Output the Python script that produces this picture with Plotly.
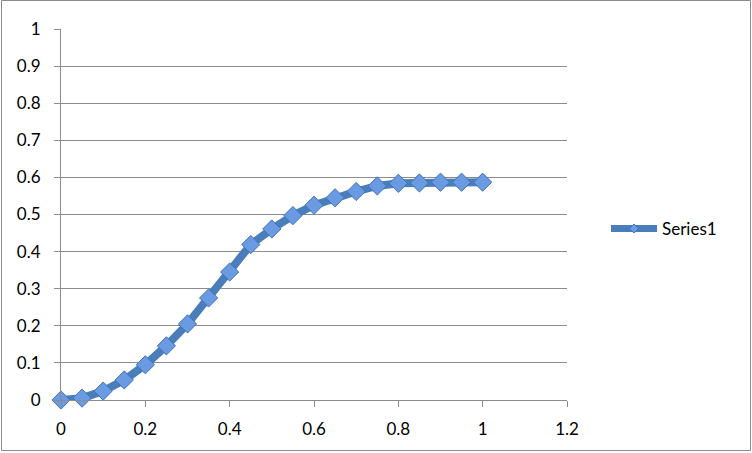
import plotly.graph_objects as go

x_vals = [0, 0.05, 0.1, 0.15, 0.2, 0.25, 0.3, 0.35, 0.4, 0.45, 0.5,
          0.55, 0.6, 0.65, 0.7, 0.75, 0.8, 0.85, 0.9, 0.95, 1.0]
series1 = [0.0, 0.005, 0.024, 0.054, 0.095, 0.146, 0.205, 0.275, 0.345, 0.419, 0.461,
           0.497, 0.525, 0.545, 0.562, 0.577, 0.584, 0.585, 0.587, 0.587, 0.587]
x_ticks = [0, 0.2, 0.4, 0.6, 0.8, 1, 1.2]
x_tick_labels = ["0", "0.2", "0.4", "0.6", "0.8", "1", "1.2"]
y_ticks = [0, 0.1, 0.2, 0.3, 0.4, 0.5, 0.6, 0.7, 0.8, 0.9, 1]
y_tick_labels = ["0", "0.1", "0.2", "0.3", "0.4", "0.5", "0.6", "0.7", "0.8", "0.9", "1"]

W, H = 752, 453
L, R, T, B = 61, 185, 29, 53
pw, ph = W - L - R, H - T - B

LINE_C = "#4a7ebb"
MARK_C = "#6a9be2"
MARK_EDGE = "#4072b8"

fig = go.Figure()
fig.add_trace(go.Scatter(
    x=x_vals, y=series1, mode="lines+markers", name="Series1", showlegend=False,
    cliponaxis=False,
    line=dict(color=LINE_C, width=8),
    marker=dict(symbol="diamond", size=14, color=MARK_C,
                line=dict(color=MARK_EDGE, width=1)),
))
# legend entry (smaller marker, as in the reference legend)
fig.add_trace(go.Scatter(
    x=[None], y=[None], mode="lines+markers", name="Series1", showlegend=True,
    line=dict(color=LINE_C, width=7),
    marker=dict(symbol="diamond", size=7, color=MARK_C,
                line=dict(color=MARK_EDGE, width=1)),
))

fig.update_layout(
    width=W, height=H,
    margin=dict(l=L, r=R, t=T, b=B),
    paper_bgcolor="white", plot_bgcolor="white",
    font=dict(family="Lato, Open Sans, sans-serif", size=17, color="#000000"),
    showlegend=True,
    legend=dict(x=(606 - L) / pw, y=(400 - 229) / ph, xanchor="left", yanchor="middle",
                bgcolor="rgba(0,0,0,0)", font=dict(size=17), itemwidth=46),
    xaxis=dict(range=[0, 1.2], tickvals=x_ticks, ticktext=x_tick_labels,
               showgrid=False, zeroline=False, showline=True, linecolor="#8c8c8c",
               linewidth=1, ticks="outside", ticklen=6, tickcolor="#8c8c8c",
               ticklabelstandoff=8),
    yaxis=dict(range=[0, 1], tickvals=y_ticks, ticktext=y_tick_labels,
               showgrid=True, gridcolor="#8c8c8c", gridwidth=1, zeroline=False,
               showline=True, linecolor="#8c8c8c", linewidth=1,
               ticks="outside", ticklen=6, tickcolor="#8c8c8c",
               ticklabelstandoff=10),
    shapes=[dict(type="rect", xref="paper", yref="paper",
                 x0=(1.5 - L) / pw, x1=(W - 1.5 - L) / pw,
                 y0=(H - B - (H - 2.5)) / ph, y1=(H - B - 0.5) / ph,
                 line=dict(color="#8c8c8c", width=1), fillcolor="rgba(0,0,0,0)",
                 layer="below")],
)

fig.write_html("out.html", config={"displayModeBar": False},
               post_script="document.body.style.margin='0';")
